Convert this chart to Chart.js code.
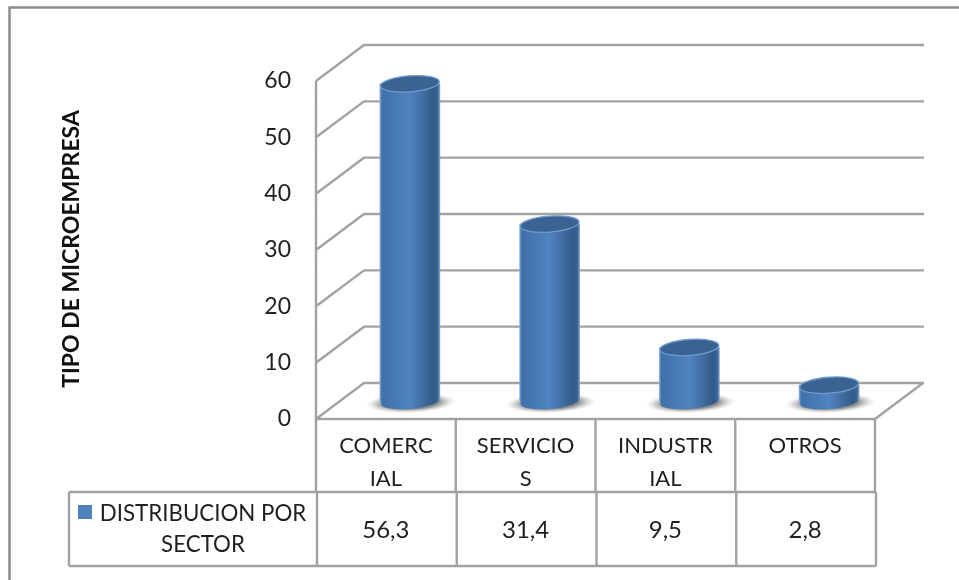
<!DOCTYPE html>
<html><head><meta charset="utf-8">
<style>html,body{margin:0;padding:0;background:#fff;overflow:hidden}#w{position:relative;width:959px;height:580px}</style>
<script src="https://cdn.jsdelivr.net/npm/chart.js@4"></script>
</head><body><div id="w"><canvas id="c" width="959" height="580"></canvas></div>
<script>
const categories = ["COMERCIAL","SERVICIOS","INDUSTRIAL","OTROS"];
const categoryLines = [["COMERC","IAL"],["SERVICIO","S"],["INDUSTR","IAL"],["OTROS",""]];
const seriesName = ["DISTRIBUCION POR","SECTOR"];
const values = [56.3,31.4,9.5,2.8];
const tickValues = [0,10,20,30,40,50,60];
const axisTitle = "TIPO DE MICROEMPRESA";

const DX=48, DY=-36, RX=30, RY=8, TILT=-0.075, FONT='Lato, Carlito, sans-serif', GRID='#a2a2a2', TXT='#1f1f1f';
const fmt=v=>String(v).replace('.',',');

function sideGradient(ctx,x0,x1){
  const g=ctx.createLinearGradient(x0,0,x1,0);
  g.addColorStop(0,'#86aad8');g.addColorStop(.035,'#3f70a9');g.addColorStop(.5,'#5083c1');
  g.addColorStop(.9,'#335a87');g.addColorStop(.965,'#3a6492');g.addColorStop(1,'#7fa3cf');
  return g;
}

const cyl={
 id:'cyl',
 beforeDatasetsDraw(ch){
  const {ctx,chartArea:a,scales:{y}}=ch;
  const p0=y.getPixelForValue(0);
  ctx.save();ctx.strokeStyle=GRID;ctx.lineWidth=2.4;ctx.beginPath();
  tickValues.forEach(v=>{const p=y.getPixelForValue(v);
    ctx.moveTo(a.left,p);ctx.lineTo(a.left+DX,p+DY);ctx.lineTo(a.left+DX+a.width+1,p+DY);});
  ctx.moveTo(a.left,y.getPixelForValue(60));ctx.lineTo(a.left,p0);ctx.lineTo(a.right,p0);ctx.lineTo(a.right+DX,p0+DY);
  ctx.stroke();
  ch.getDatasetMeta(0).data.forEach(b=>{
    const g=ctx.createRadialGradient(0,0,0,0,0,1);
    g.addColorStop(0,'rgba(70,70,70,.75)');g.addColorStop(.62,'rgba(85,85,85,.65)');g.addColorStop(.82,'rgba(130,130,130,.3)');g.addColorStop(1,'rgba(180,180,180,0)');
    ctx.save();ctx.translate(b.x+DX/2+1,p0+DY/2+2);ctx.rotate(TILT/2);ctx.scale(45,10);
    ctx.fillStyle=g;ctx.beginPath();ctx.arc(0,0,1,0,7);ctx.fill();ctx.restore();
  });
  ctx.restore();
 },
 beforeDatasetDraw(ch){
  const {ctx}=ch;
  ctx.save();ctx.translate(DX/2,DY/2);
  ch.getDatasetMeta(0).data.forEach(b=>{
    ctx.save();ctx.translate(b.x,b.base);ctx.rotate(TILT);
    ctx.fillStyle=sideGradient(ctx,-RX,RX);ctx.beginPath();ctx.ellipse(0,0,RX,RY,0,0,7);ctx.fill();ctx.restore();
  });
 },
 afterDatasetDraw(ch){
  const {ctx}=ch;
  ch.getDatasetMeta(0).data.forEach(b=>{
    ctx.save();ctx.translate(b.x,b.y);ctx.rotate(TILT);
    ctx.fillStyle='#3b6391';ctx.strokeStyle='#6f9bd0';ctx.lineWidth=1.3;
    ctx.beginPath();ctx.ellipse(0,0,RX-.5,RY,0,0,7);ctx.fill();ctx.stroke();ctx.restore();
  });
  ctx.restore();
 },
 afterDraw(ch){
  const {ctx,chartArea:a,scales:{x}}=ch;
  const top=a.bottom,m=492,b=566,L=69;
  const cols=categories.map((_,i)=>a.left+(a.width/categories.length)*i);cols.push(a.right);
  ctx.save();ctx.strokeStyle=GRID;ctx.lineWidth=2.4;ctx.beginPath();
  cols.forEach(c=>{ctx.moveTo(c,top);ctx.lineTo(c,m);ctx.moveTo(c+1,m);ctx.lineTo(c+1,b);});
  ctx.moveTo(L,m);ctx.lineTo(a.right+1,m);ctx.moveTo(L,b);ctx.lineTo(a.right+1,b);
  ctx.moveTo(L,m);ctx.lineTo(L,b);
  ctx.stroke();
  ctx.fillStyle=TXT;ctx.textAlign='center';ctx.textBaseline='middle';
  ctx.font='24px '+FONT;
  values.forEach((v,i)=>ctx.fillText(fmt(v),x.getPixelForValue(i),530));
  ctx.font='22.3px '+FONT;
  ctx.fillText(seriesName[0],203,514);ctx.fillText(seriesName[1],203,545);
  ctx.fillStyle='#4f81bd';ctx.fillRect(78,505,14,14);
  // outer frame: top and left edges only, cropped by the picture
  ctx.strokeStyle='#8c8c8c';ctx.lineWidth=2.5;ctx.beginPath();
  ctx.moveTo(9.5,580);ctx.lineTo(9.5,7.5);ctx.lineTo(959,7.5);ctx.stroke();
  // axis title
  ctx.translate(72,249);ctx.rotate(-Math.PI/2);
  ctx.font='bold 23px '+FONT;ctx.fillStyle='#111';ctx.fillText(axisTitle,0,0);
  ctx.restore();
 }
};
new Chart(document.getElementById('c'),{
 type:'bar',
 data:{labels:categoryLines,datasets:[{label:seriesName.join(' '),data:values,barThickness:60,
   backgroundColor(c){
     const {chart,dataIndex}=c;
     if(!chart.chartArea)return '#4f81bd';
     const cx=chart.scales.x.getPixelForValue(dataIndex);
     return sideGradient(chart.ctx,cx-RX,cx+RX);
   },borderWidth:0}]},
 options:{responsive:false,animation:false,events:[],
  layout:{padding:{left:316-60,right:959-875,top:81,bottom:580-419-73}},
  plugins:{legend:{display:false},tooltip:{enabled:false}},
  scales:{
   y:{min:0,max:60,afterFit(s){s.width=60},
      ticks:{stepSize:10,color:TXT,padding:17,font:{family:FONT,size:23}},
      grid:{display:false},border:{display:false}},
   x:{afterFit(s){s.height=73},grid:{display:false},border:{display:false},
      ticks:{color:TXT,padding:2,maxRotation:0,autoSkip:false,font:{family:FONT,size:22,lineHeight:1.5}}}
  }},
 plugins:[cyl]
});
</script>
</body></html>
